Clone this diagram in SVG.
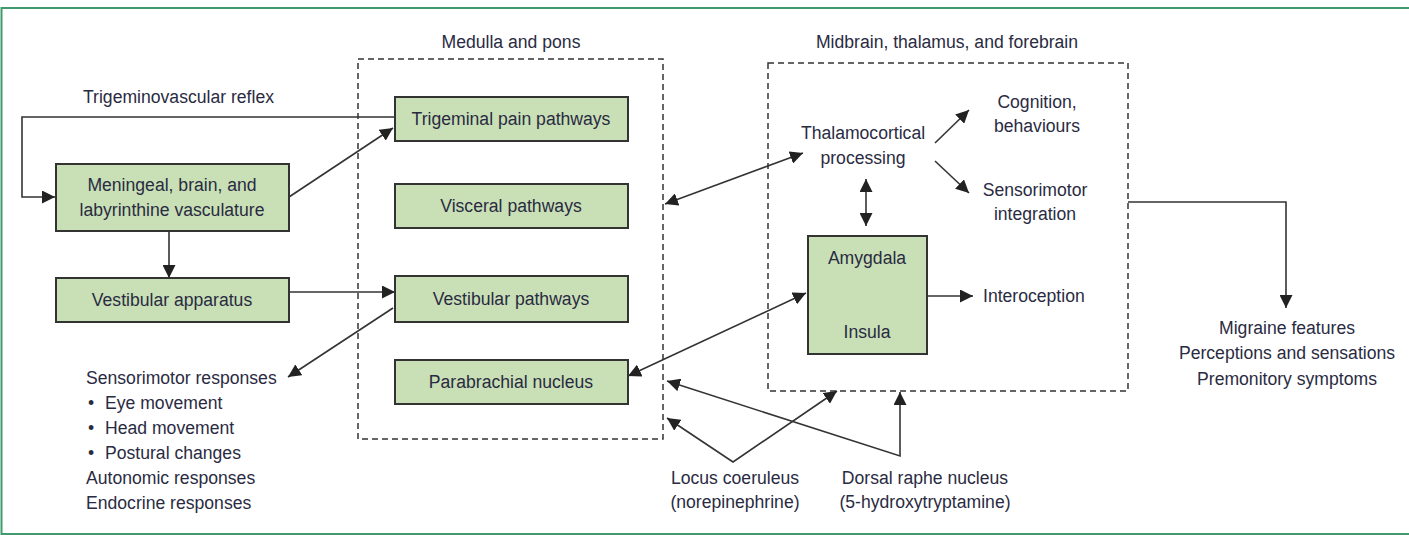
<svg xmlns="http://www.w3.org/2000/svg" width="1409" height="535" viewBox="0 0 1409 535">
  <defs>
    <marker id="arrow" markerUnits="userSpaceOnUse" markerWidth="13" markerHeight="13" viewBox="0 0 13 13" refX="13" refY="6.5" orient="auto-start-reverse">
      <path d="M0,0 L13,6.5 L0,13 z" fill="#222"/>
    </marker>
    <style>
      text { font-family: "Liberation Sans", Arial, sans-serif; font-size: 17.6px; fill: #2a2b42; }
      .c { text-anchor: middle; }
      .box { fill: #c9e0b6; stroke: #333; stroke-width: 2; }
      .region { fill: none; stroke: #333; stroke-width: 1.5; stroke-dasharray: 6 4; }
      .link { fill: none; stroke: #333; stroke-width: 1.6; }
    </style>
  </defs>

  <rect width="1409" height="535" fill="#fff"/>
  <!-- frame: top, left and bottom rules -->
  <path d="M1410,8 H1.5 V534 H1410" fill="none" stroke="#3f9b6e" stroke-width="2"/>

  <!-- region boxes -->
  <g id="medulla-pons">
    <rect class="region" x="358" y="59" width="305" height="380"/>
    <text class="c" x="511" y="48">Medulla and pons</text>
  </g>
  <g id="midbrain-forebrain">
    <rect class="region" x="768" y="63" width="360" height="328"/>
    <text class="c" x="947" y="48">Midbrain, thalamus, and forebrain</text>
  </g>

  <!-- connectors -->
  <g id="connectors">
    <path class="link" d="M395,117 H22 V197 H55" marker-end="url(#arrow)"/>
    <path class="link" d="M289,197 L393,128" marker-end="url(#arrow)"/>
    <path class="link" d="M169,231 V278" marker-end="url(#arrow)"/>
    <path class="link" d="M289,292 H395" marker-end="url(#arrow)"/>
    <path class="link" d="M393,308 L288,377" marker-end="url(#arrow)"/>
    <path class="link" d="M665,204 L803,153" marker-start="url(#arrow)" marker-end="url(#arrow)"/>
    <path class="link" d="M935,143 L969,110" marker-end="url(#arrow)"/>
    <path class="link" d="M935,161 L969,193" marker-end="url(#arrow)"/>
    <path class="link" d="M866,179 V226" marker-start="url(#arrow)" marker-end="url(#arrow)"/>
    <path class="link" d="M867,275 V322" marker-start="url(#arrow)" marker-end="url(#arrow)"/>
    <path class="link" d="M927,296 H973" marker-end="url(#arrow)"/>
    <path class="link" d="M628,376 L806,293" marker-start="url(#arrow)" marker-end="url(#arrow)"/>
    <path class="link" d="M667,418 L733,462 L837,391" marker-start="url(#arrow)" marker-end="url(#arrow)"/>
    <path class="link" d="M667,381 L900,456 V392" marker-start="url(#arrow)" marker-end="url(#arrow)"/>
    <path class="link" d="M1128,202 H1286 V308" marker-end="url(#arrow)"/>
  </g>

  <!-- nodes -->
  <g id="trigeminovascular-reflex">
    <text x="83" y="103">Trigeminovascular reflex</text>
  </g>
  <g id="meningeal-vasculature">
    <rect class="box" x="56" y="164" width="233" height="67"/>
    <text class="c" x="172" y="191">Meningeal, brain, and</text>
    <text class="c" x="172" y="216">labyrinthine vasculature</text>
  </g>
  <g id="vestibular-apparatus">
    <rect class="box" x="56" y="278" width="233" height="44"/>
    <text class="c" x="172" y="306">Vestibular apparatus</text>
  </g>
  <g id="trigeminal-pain">
    <rect class="box" x="395" y="97" width="233" height="44"/>
    <text class="c" x="511" y="125">Trigeminal pain pathways</text>
  </g>
  <g id="visceral">
    <rect class="box" x="395" y="184" width="233" height="44"/>
    <text class="c" x="511" y="212">Visceral pathways</text>
  </g>
  <g id="vestibular-pathways">
    <rect class="box" x="395" y="276" width="233" height="46"/>
    <text class="c" x="511" y="305">Vestibular pathways</text>
  </g>
  <g id="parabrachial">
    <rect class="box" x="395" y="360" width="233" height="44"/>
    <text class="c" x="511" y="388">Parabrachial nucleus</text>
  </g>
  <g id="responses">
    <text x="86" y="384">Sensorimotor responses</text>
    <text x="88" y="409">•</text>
    <text x="105" y="409">Eye movement</text>
    <text x="88" y="434">•</text>
    <text x="105" y="434">Head movement</text>
    <text x="88" y="459">•</text>
    <text x="105" y="459">Postural changes</text>
    <text x="86" y="484">Autonomic responses</text>
    <text x="86" y="509">Endocrine responses</text>
  </g>
  <g id="thalamocortical">
    <text class="c" x="863" y="139">Thalamocortical</text>
    <text class="c" x="863" y="164">processing</text>
  </g>
  <g id="cognition">
    <text class="c" x="1037" y="108">Cognition,</text>
    <text class="c" x="1037" y="132">behaviours</text>
  </g>
  <g id="sensorimotor-integration">
    <text class="c" x="1035" y="196">Sensorimotor</text>
    <text class="c" x="1035" y="220">integration</text>
  </g>
  <g id="amygdala-insula">
    <rect class="box" x="808" y="236" width="119" height="118"/>
    <text class="c" x="867" y="264">Amygdala</text>
    <text class="c" x="867" y="338">Insula</text>
  </g>
  <g id="interoception">
    <text x="983" y="302">Interoception</text>
  </g>
  <g id="locus-coeruleus">
    <text class="c" x="735" y="484">Locus coeruleus</text>
    <text class="c" x="735" y="508">(norepinephrine)</text>
  </g>
  <g id="dorsal-raphe">
    <text class="c" x="925" y="484">Dorsal raphe nucleus</text>
    <text class="c" x="925" y="508">(5-hydroxytryptamine)</text>
  </g>
  <g id="migraine-features">
    <text class="c" x="1287" y="334">Migraine features</text>
    <text class="c" x="1287" y="359">Perceptions and sensations</text>
    <text class="c" x="1287" y="385">Premonitory symptoms</text>
  </g>
</svg>
